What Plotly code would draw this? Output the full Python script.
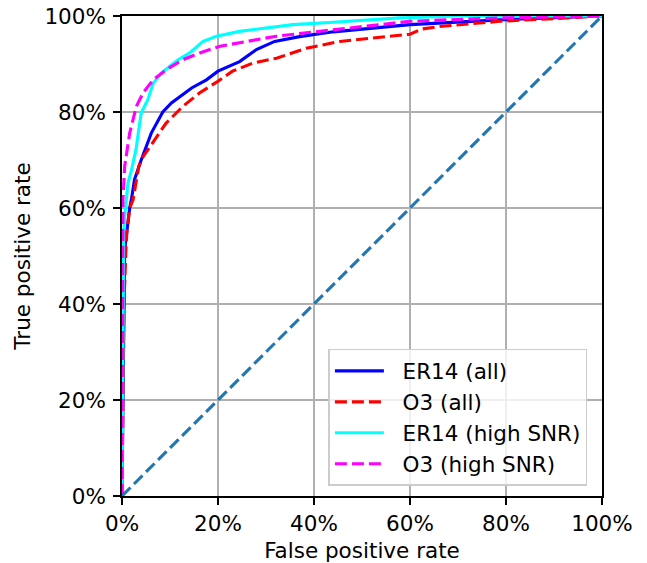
import plotly.graph_objects as go

# ROC curve data (percent)
er14_all_fpr = [0, 0.3, 0.35, 0.56, 1.6, 2.0, 2.6, 4.0, 6.1, 8.5, 10.3, 14.5, 17.6, 20.0, 24.5, 28.0, 31.8, 37.0, 44.0, 60.0, 78.7, 100]
er14_all_tpr = [0, 30.0, 33.0, 51.3, 60.0, 62.0, 65.9, 70.0, 75.6, 80.0, 81.9, 85.0, 86.7, 88.5, 90.5, 93.0, 94.7, 95.7, 96.7, 98.2, 99.2, 100]

o3_all_fpr = [0, 0.3, 0.35, 0.8, 1.0, 1.6, 2.3, 3.5, 4.4, 6.8, 9.2, 12.7, 16.2, 20.0, 23.0, 27.3, 32.2, 38.4, 45.4, 60.0, 62.5, 66.0, 78.7, 92.6, 100]
o3_all_tpr = [0, 30.0, 38.0, 51.0, 54.8, 60.0, 61.7, 68.7, 70.7, 74.2, 77.7, 81.2, 84.0, 86.4, 88.5, 90.2, 91.2, 93.3, 94.7, 96.2, 97.3, 97.8, 98.9, 99.6, 100]

er14_high_fpr = [0, 0.3, 0.35, 0.56, 1.25, 2.0, 2.9, 4.0, 5.4, 6.5, 8.2, 9.9, 11.7, 14.1, 16.9, 19.7, 24.5, 30.0, 35.6, 44.0, 57.8, 70.0, 100]
er14_high_tpr = [0, 50.0, 54.8, 58.3, 65.2, 68.0, 72.1, 79.8, 82.6, 86.0, 88.1, 89.5, 90.9, 92.3, 94.7, 95.8, 96.8, 97.5, 98.2, 98.7, 99.6, 100, 100]

o3_high_fpr = [0, 0.1, 0.2, 0.56, 1.6, 3.0, 4.4, 6.5, 9.2, 12.7, 16.2, 20.4, 25.9, 32.2, 38.4, 45.4, 60.0, 78.7, 100]
o3_high_tpr = [0, 58.0, 61.7, 68.7, 75.6, 81.2, 84.0, 86.7, 88.8, 90.9, 92.3, 93.7, 94.7, 95.8, 96.5, 97.3, 98.9, 99.6, 100]

chance = [0, 100]

tick_vals = [0, 20, 40, 60, 80, 100]
tick_text = ["0%", "20%", "40%", "60%", "80%", "100%"]

series_names = ["ER14 (all)", "O3 (all)", "ER14 (high SNR)", "O3 (high SNR)"]

FONT = "DejaVu Sans"
FS = 21.5
LW = 3.1
DASH = "12px,5px"
PAD = "\u00a0\u00a0"

fig = go.Figure()
fig.add_trace(go.Scatter(x=er14_all_fpr, y=er14_all_tpr, mode="lines", name=PAD + series_names[0],
                         line=dict(color="#0000ff", width=LW)))
fig.add_trace(go.Scatter(x=o3_all_fpr, y=o3_all_tpr, mode="lines", name=PAD + series_names[1],
                         line=dict(color="#ff0000", width=LW, dash=DASH)))
fig.add_trace(go.Scatter(x=er14_high_fpr, y=er14_high_tpr, mode="lines", name=PAD + series_names[2],
                         line=dict(color="#00ffff", width=LW)))
fig.add_trace(go.Scatter(x=o3_high_fpr, y=o3_high_tpr, mode="lines", name=PAD + series_names[3],
                         line=dict(color="#ff00ff", width=LW, dash=DASH)))
fig.add_trace(go.Scatter(x=chance, y=chance, mode="lines", showlegend=False,
                         line=dict(color="#1f77b4", width=LW, dash=DASH)))

axis_common = dict(
    range=[0, 100], tickvals=tick_vals, ticktext=tick_text,
    showgrid=True, gridcolor="#b0b0b0", gridwidth=1.7,
    showline=True, linecolor="black", linewidth=1.7, mirror=True,
    ticks="outside", ticklen=7, tickcolor="black", tickwidth=1.7,
    zeroline=False, tickfont=dict(family=FONT, size=FS, color="black"),
    automargin=False, ticklabeloverflow="allow",
)

fig.update_layout(
    width=647, height=563,
    margin=dict(l=122, r=45, t=16, b=67),
    paper_bgcolor="white", plot_bgcolor="white",
    font=dict(family=FONT, size=FS, color="black"),
    xaxis=dict(title=dict(text="False positive rate", font=dict(family=FONT, size=FS), standoff=10),
               ticklabelstandoff=0, **axis_common),
    yaxis=dict(title=dict(text="True positive rate", font=dict(family=FONT, size=FS), standoff=8),
               ticklabelstandoff=3, **axis_common),
    legend=dict(x=0.43, y=0.021, xanchor="left", yanchor="bottom",
                bgcolor="rgba(255,255,255,0.8)", bordercolor="#cccccc", borderwidth=1.5,
                font=dict(family=FONT, size=FS), tracegroupgap=0, itemwidth=49),
    showlegend=True,
)

fig.write_html("out.html", config={"displayModeBar": False},
               post_script="document.body.style.margin='0';")
